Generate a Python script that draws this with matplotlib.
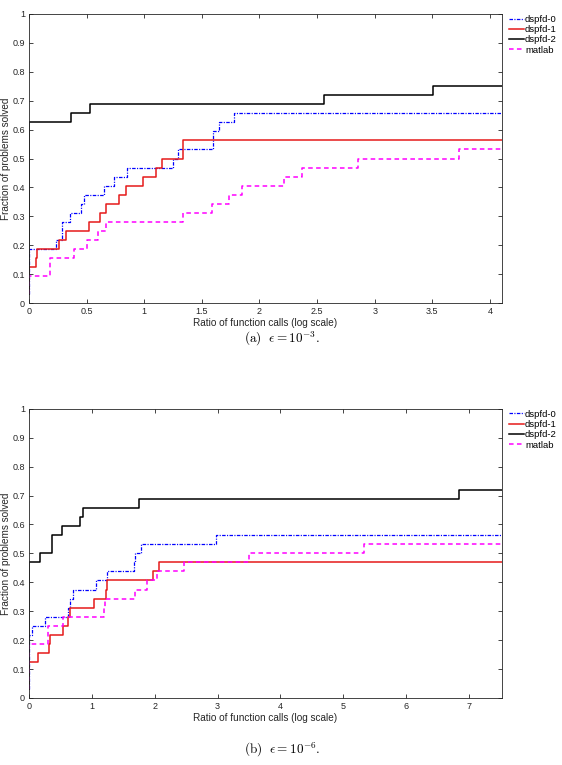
import numpy as np
import matplotlib
matplotlib.use('Agg')
import matplotlib.pyplot as plt

plt.rcParams['font.family'] = ['Liberation Sans', 'DejaVu Sans']
plt.rcParams['mathtext.fontset'] = 'cm'

solvers = ['dspfd-0', 'dspfd-1', 'dspfd-2', 'matlab']

# (a) eps = 1e-3 : step positions (log ratio) and fraction solved after each step
a_x_end = 4.104
a_d0_x = [0, 0, 0.238, 0.287, 0.359, 0.449, 0.478, 0.655, 0.736, 0.849, 1.252, 1.296, 1.594, 1.600, 1.649, 1.783]
a_d0_y = [0.03125, 0.1875, 0.21875, 0.28125, 0.3125, 0.34375, 0.375, 0.40625, 0.4375, 0.46875, 0.5, 0.53125, 0.5625, 0.59375, 0.625, 0.65625]
a_d1_x = [0, 0, 0.058, 0.072, 0.261, 0.319, 0.522, 0.614, 0.667, 0.783, 0.841, 0.986, 1.099, 1.151, 1.333]
a_d1_y = [0.03125, 0.125, 0.15625, 0.1875, 0.21875, 0.25, 0.28125, 0.3125, 0.34375, 0.375, 0.40625, 0.4375, 0.46875, 0.5, 0.5625]
a_d2_x = [0, 0, 0.368, 0.527, 2.562, 3.505]
a_d2_y = [0.03125, 0.625, 0.65625, 0.6875, 0.71875, 0.75]
a_ml_x = [0, 0, 0.186, 0.388, 0.504, 0.603, 0.667, 1.333, 1.591, 1.739, 1.846, 2.213, 2.366, 2.857, 3.731]
a_ml_y = [0.03125, 0.09375, 0.15625, 0.1875, 0.21875, 0.25, 0.28125, 0.3125, 0.34375, 0.375, 0.40625, 0.4375, 0.46875, 0.5, 0.53125]

# (b) eps = 1e-6
b_x_end = 7.525
b_d0_x = [0, 0, 0.048, 0.250, 0.622, 0.660, 0.700, 1.059, 1.245, 1.670, 1.680, 1.780, 2.973]
b_d0_y = [0.03125, 0.21875, 0.25, 0.28125, 0.3125, 0.34375, 0.375, 0.40625, 0.4375, 0.46875, 0.5, 0.53125, 0.5625]
b_d1_x = [0, 0, 0.148, 0.323, 0.340, 0.546, 0.626, 0.654, 1.027, 1.218, 1.245, 1.968, 2.074]
b_d1_y = [0.03125, 0.125, 0.15625, 0.1875, 0.21875, 0.25, 0.28125, 0.3125, 0.34375, 0.375, 0.40625, 0.4375, 0.46875]
b_d2_x = [0, 0, 0.170, 0.367, 0.532, 0.814, 0.856, 1.750, 6.840]
b_d2_y = [0.03125, 0.46875, 0.5, 0.5625, 0.59375, 0.625, 0.65625, 0.6875, 0.71875]
b_ml_x = [0, 0, 0.307, 0.540, 1.197, 1.210, 1.690, 1.872, 2.030, 2.473, 3.505, 5.330]
b_ml_y = [0.03125, 0.1875, 0.25, 0.28125, 0.3125, 0.34375, 0.375, 0.40625, 0.4375, 0.46875, 0.5, 0.53125]

styles = [
    dict(color=(0, 0, 1), linestyle=(0, (2.8, 1.1, 0.9, 1.1)), lw=0.9),
    dict(color=(0.9, 0.1, 0.1), linestyle='-', lw=1.1),
    dict(color='k', linestyle='-', lw=1.1),
    dict(color=(1, 0, 1), linestyle=(0, (3, 2.2)), lw=1.1),
]

fig = plt.figure(figsize=(5.62, 7.65), dpi=100)
ax_a = fig.add_axes([0.0516, 0.6039, 0.8416, 0.3778])
ax_b = fig.add_axes([0.0516, 0.0876, 0.8416, 0.3781])

panels = [
    (ax_a, a_x_end, [(a_d0_x, a_d0_y), (a_d1_x, a_d1_y), (a_d2_x, a_d2_y), (a_ml_x, a_ml_y)],
     [0, 0.5, 1, 1.5, 2, 2.5, 3, 3.5, 4], ['0', '0.5', '1', '1.5', '2', '2.5', '3', '3.5', '4'],
     r'$\mathrm{(a)}\ \ \epsilon = 10^{-3}.$', 0.557),
    (ax_b, b_x_end, [(b_d0_x, b_d0_y), (b_d1_x, b_d1_y), (b_d2_x, b_d2_y), (b_ml_x, b_ml_y)],
     [0, 1, 2, 3, 4, 5, 6, 7], ['0', '1', '2', '3', '4', '5', '6', '7'],
     r'$\mathrm{(b)}\ \ \epsilon = 10^{-6}.$', 0.020),
]

axis_col = (0.15, 0.15, 0.15)
for ax, x_end, series, xt, xtl, caption, cap_y in panels:
    for (xs, ys), name, st in zip(series, solvers, styles):
        xs = list(xs) + [x_end]
        ys = list(ys) + [ys[-1]]
        ax.step(xs, ys, where='post', label=name, **st)
    ax.set_xlim(0, x_end)
    ax.set_ylim(0, 1)
    ax.set_xticks(xt)
    ax.set_xticklabels(xtl)
    ax.set_yticks(np.round(np.arange(0, 1.01, 0.1), 1))
    ax.set_yticklabels(['0', '0.1', '0.2', '0.3', '0.4', '0.5', '0.6', '0.7', '0.8', '0.9', '1'])
    ax.tick_params(direction='in', top=True, right=True, length=3.2, width=0.6,
                   labelsize=6.5, colors=axis_col, pad=3)
    for sp in ax.spines.values():
        sp.set_color(axis_col)
        sp.set_linewidth(0.6)
    ax.set_xlabel('Ratio of function calls (log scale)', fontsize=7.2, color=axis_col, labelpad=1.5)
    ax.set_ylabel('Fraction of problems solved', fontsize=7.2, color=axis_col, labelpad=1)
    ax.legend(loc='upper left', bbox_to_anchor=(1.0, 1.02), frameon=False, fontsize=6.8,
              handlelength=1.6, handletextpad=0.15, labelspacing=0.14, borderaxespad=0.3)
    fig.text(0.502, cap_y, caption, fontsize=9.5, ha='center', va='center')

fig.savefig('out.png', dpi=100)
